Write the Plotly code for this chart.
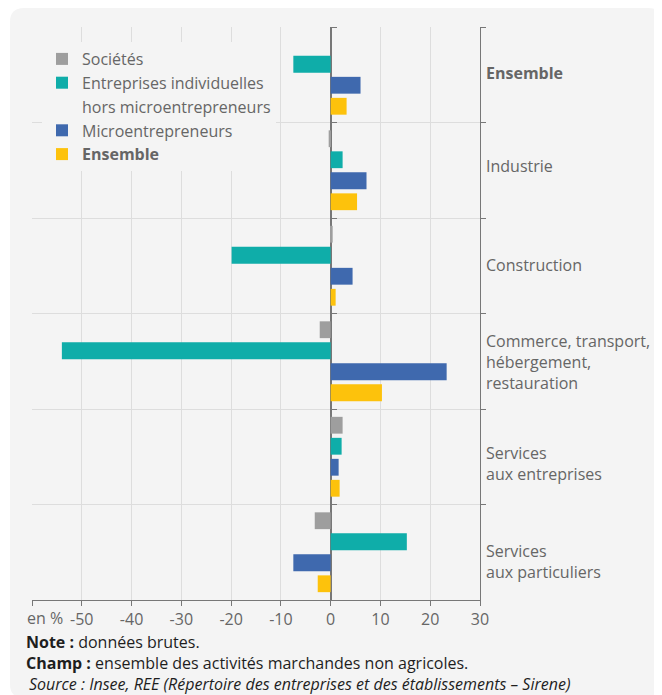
import plotly.graph_objects as go

categories = ["Ensemble", "Industrie", "Construction",
              "Commerce, transport, hébergement, restauration",
              "Services aux entreprises", "Services aux particuliers"]
category_labels = ["<b>Ensemble</b>", "Industrie", "Construction",
                   "Commerce, transport,<br>hébergement,<br>restauration",
                   "Services<br>aux entreprises", "Services<br>aux particuliers"]
series_names = ["Sociétés", "Entreprises individuelles", "Microentrepreneurs", "<b>Ensemble</b>"]
series_name_continuation = "hors microentrepreneurs"
societes = [0.0, -0.4, 0.4, -2.2, 2.4, -3.2]
ei_hors_micro = [-7.5, 2.4, -19.9, -54.0, 2.2, 15.3]
micro = [6.0, 7.2, 4.4, 23.3, 1.6, -7.5]
ensemble = [3.2, 5.3, 1.0, 10.3, 1.8, -2.6]
colors = ["#9e9e9e", "#0fada9", "#3f69ae", "#fdc20c"]
x_ticks = [-60, -50, -40, -30, -20, -10, 0, 10, 20, 30]
x_ticktext = ["", "-50", "-40", "-30", "-20", "-10", "0", "10", "20", "30"]

# label styling (vertical nudges in px, downward positive)
label_dy = [-2, -4, -1, 1, 7, 9.5]

OFF = 8  # browser body margin
W, H = 662 - OFF, 695 - OFF
# plot area in page pixels: x 32..480, y 27..600
ML, MT = 32 - OFF, 27 - OFF
MR = W - (480 - OFF)
MB = H - (600 - OFF)
PW, PH = W - ML - MR, H - MT - MB


def px(x):  # page x -> paper
    return (x - OFF - ML) / PW


def py(y):  # page y -> paper
    return (H - MB - (y - OFF)) / PH


TXT = "#666666"
DARK = "#1e1e1e"
FONT = "Open Sans"
FS = 16

fig = go.Figure()
all_series = [societes, ei_hors_micro, micro, ensemble]
for k, (name, vals, col) in enumerate(zip(series_names, all_series, colors)):
    fig.add_trace(go.Bar(y=categories, x=vals, name=name, orientation="h",
                         marker=dict(color=col, line=dict(width=0)), legendrank=10 * k))
    if k == 1:
        # second line of the legend entry (no symbol)
        fig.add_trace(go.Scatter(x=[None], y=[None], mode="markers", name=series_name_continuation,
                                 marker=dict(color="rgba(0,0,0,0)", size=1,
                                             line=dict(width=0, color="rgba(0,0,0,0)")),
                                 hoverinfo="skip", legendrank=10 * k + 5))

# invisible trace for the tick marks on the zero line
fig.add_trace(go.Scatter(y=categories, x=[0] * len(categories), yaxis="y2", mode="markers",
                         marker=dict(color="rgba(0,0,0,0)"), showlegend=False, hoverinfo="skip"))

r = 14
x0, x1, y0, y1 = 10, 662, 8, 698
card = (f"M {px(x0)},{py(y1 - r)} L {px(x0)},{py(y0 + r)} Q {px(x0)},{py(y0)} {px(x0 + r)},{py(y0)} "
        f"L {px(x1 - r)},{py(y0)} Q {px(x1)},{py(y0)} {px(x1)},{py(y0 + r)} L {px(x1)},{py(y1)} "
        f"L {px(x0 + r)},{py(y1)} Q {px(x0)},{py(y1)} {px(x0)},{py(y1 - r)} Z")

annotations = []
for i, lab in enumerate(category_labels):
    annotations.append(dict(text=lab, x=px(484), y=i, xref="paper", yref="y",
                            yshift=-label_dy[i], showarrow=False, xanchor="left", yanchor="middle",
                            align="left", font=dict(size=FS, color=TXT)))

annotations += [
    dict(text="en %", x=px(45), y=py(618), xref="paper", yref="paper",
         showarrow=False, xanchor="center", yanchor="middle",
         font=dict(size=FS, color=TXT)),
    dict(text="<b>Note :</b> données brutes.", x=px(24), y=py(642), xref="paper", yref="paper",
         showarrow=False, xanchor="left", yanchor="middle",
         font=dict(size=FS, color=DARK)),
    dict(text="<b>Champ :</b> ensemble des activités marchandes non agricoles.",
         x=px(24), y=py(663), xref="paper", yref="paper",
         showarrow=False, xanchor="left", yanchor="middle",
         font=dict(size=FS, color=DARK)),
    dict(text="<i>Source : Insee, REE (Répertoire des entreprises et des établissements – Sirene)</i>",
         x=px(27), y=py(683.5), xref="paper", yref="paper",
         showarrow=False, xanchor="left", yanchor="middle",
         font=dict(size=FS, color=DARK)),
]

fig.update_layout(
    width=W, height=H,
    margin=dict(l=ML, r=MR, t=MT, b=MB, pad=0),
    paper_bgcolor="white", plot_bgcolor="rgba(0,0,0,0)",
    font=dict(family=FONT, size=FS, color=TXT),
    barmode="group", bargap=0.12, bargroupgap=0.2,
    showlegend=True,
    legend=dict(x=px(42), y=py(42), xanchor="left", yanchor="top",
                bgcolor="#f4f4f4", traceorder="normal", tracegroupgap=0,
                font=dict(family=FONT, size=FS, color=TXT)),
    xaxis=dict(range=[-60, 30], tickvals=x_ticks, ticktext=x_ticktext,
               showgrid=True, gridcolor="#dddddd", gridwidth=1,
               zeroline=True, zerolinecolor="#777777", zerolinewidth=2,
               showline=True, linecolor="#777777", linewidth=1,
               ticks="outside", ticklen=5, tickcolor="#777777",
               tickfont=dict(size=FS, color=TXT)),
    yaxis=dict(type="category", range=[5.5, -0.5], side="right",
               showgrid=True, gridcolor="#dddddd", gridwidth=1,
               tickson="boundaries", ticks="outside", ticklen=5, tickcolor="#777777",
               showline=True, linecolor="#777777", linewidth=1,
               showticklabels=False, zeroline=False),
    yaxis2=dict(type="category", range=[5.5, -0.5], overlaying="y", anchor="free",
                position=(0 - (-60)) / 90, side="right", showgrid=False,
                tickson="boundaries", ticks="outside", ticklen=5, tickcolor="#777777",
                showticklabels=False, showline=False, zeroline=False),
    shapes=[dict(type="path", path=card, xref="paper", yref="paper",
                 fillcolor="#f4f4f4", line=dict(width=0), layer="below")],
    annotations=annotations,
)

fig.write_html("out.html")
